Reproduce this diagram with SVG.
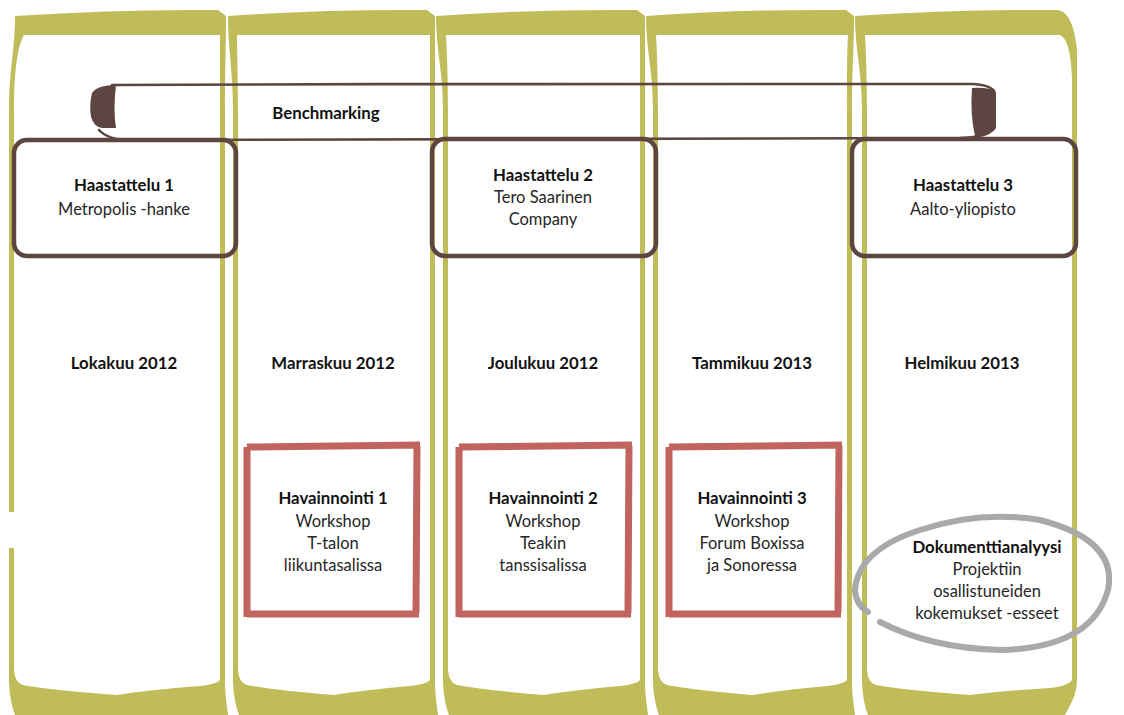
<svg xmlns="http://www.w3.org/2000/svg" width="1124" height="715" viewBox="0 0 1124 715">
<style>
.col{fill:#c0bc59;fill-rule:evenodd}
.gap{fill:#ffffff}
.bm{fill:none;stroke:#5d4641;stroke-width:2.6;stroke-linecap:round}
.bmf{fill:#5d4641}
.hb{fill:none;stroke:#5d4641;stroke-width:4.5;stroke-linejoin:round}
.hv{fill:none;stroke:#c1635f;stroke-width:7;stroke-linejoin:miter}
.dk{fill:none;stroke:#a9a9a9;stroke-width:6;stroke-linecap:round}
text{font-family:Lato,"Noto Sans","Liberation Sans",sans-serif;font-size:16.5px;fill:#262626;text-anchor:middle}
.b{font-weight:bold;font-size:16.8px;fill:#111111}
</style>
<rect width="1124" height="715" fill="#ffffff"/>
<g id="columns">
<path id="col1" class="col" d="M15,16 Q120,9 218,10 L226,16 C226,50 225,70 225,110 L225,680 C225,695 227,705 228,715 L15,715 C11,705 9,690 9,680 L9,110 C9,70 15,50 15,16 Z M24,35 L220,35 C220,50 220,80 220,110 L220,680 Q217,684 200,686 Q147,690 117,695 Q49,690 23,685 Q15,683 14,670 L14,110 C14,70 18,45 24,35 Z"/>
<path id="col2" class="col" d="M228,16 Q330,9 427,10 L435,16 C435,50 435,70 435,110 L435,680 C435,695 437,705 438,715 L239,715 C235,705 233,690 233,680 L233,110 C233,70 228,50 228,16 Z M237,35 L430,35 C430,50 430,80 430,110 L430,680 Q427,684 410,686 Q364,690 334,695 Q273,690 247,685 Q239,683 238,670 L238,110 C238,80 237,50 237,35 Z"/>
<path id="col3" class="col" d="M436,16 Q540,9 637,10 L645,16 C645,50 645,70 645,110 L645,680 C645,695 647,705 648,715 L449,715 C445,705 443,690 443,680 L443,110 C443,70 436,50 436,16 Z M446,35 L640,35 C640,50 640,80 640,110 L640,680 Q637,684 620,686 Q574,690 544,695 Q483,690 457,685 Q449,683 448,670 L448,110 C448,80 447,50 446,35 Z"/>
<path id="col4" class="col" d="M646,16 Q750,9 846,10 L854,16 C854,50 852,70 852,110 L852,680 C852,695 854,705 855,715 L659,715 C655,705 653,690 653,680 L653,110 C653,70 646,50 646,16 Z M656,35 L848,35 C847,50 847,80 847,110 L847,680 Q844,684 827,686 Q782,690 752,695 Q693,690 667,685 Q659,683 658,670 L658,110 C658,80 657,50 656,35 Z"/>
<path id="col5" class="col" d="M855,16 Q960,9 1058,10 Q1073,12 1077,50 L1077,680 C1077,695 1070,705 1065,715 L868,715 C864,705 862,690 862,680 L862,110 C862,70 855,50 855,16 Z M865,35 L1060,35 Q1071,40 1072,80 L1072,680 Q1068,686 1050,688 Q1000,691 970,695 Q903,690 876,685 Q868,683 867,670 L867,110 C867,80 866,50 865,35 Z"/>
<rect class="gap" x="3" y="512" width="16" height="36"/>
</g>
<g id="connectors"></g>
<g id="benchmarking">
<path class="bm" d="M112,85 C400,84 700,83 972,84 Q990,85 994,91"/>
<path class="bm" d="M99,130 Q108,140 130,140 L960,138 Q984,137 990,132"/>
<path class="bmf" d="M116,85 Q97,85 92,93 Q89,105 91,117 Q94,127 102,128 L116,128 Q113,110 116,85 Z"/>
<path class="bmf" d="M972,88 Q990,87 996,92 L996,128 Q992,135 975,136 Q970,115 972,88 Z"/>
<text class="b" x="326" y="119">Benchmarking</text>
</g>
<g id="haastattelu1">
<rect class="hb" x="14" y="140" width="222" height="116" rx="13"/>
<text class="b" x="124" y="191">Haastattelu 1</text>
<text x="124" y="215">Metropolis -hanke</text>
</g>
<g id="haastattelu2">
<rect class="hb" x="432" y="139" width="224" height="117" rx="13"/>
<text class="b" x="543" y="181">Haastattelu 2</text>
<text x="543" y="203">Tero Saarinen</text>
<text x="543" y="225">Company</text>
</g>
<g id="haastattelu3">
<rect class="hb" x="852" y="139" width="224" height="117" rx="13"/>
<text class="b" x="963" y="191">Haastattelu 3</text>
<text x="963" y="215">Aalto-yliopisto</text>
</g>
<g id="months">
<text class="b" x="124" y="369">Lokakuu 2012</text>
<text class="b" x="333" y="369">Marraskuu 2012</text>
<text class="b" x="543" y="369">Joulukuu 2012</text>
<text class="b" x="752" y="369">Tammikuu 2013</text>
<text class="b" x="962" y="369">Helmikuu 2013</text>
</g>
<g id="havainnointi1">
<path class="hv" d="M247,447 L420,445 M417,446 L416,613 M419,614 L247,614 M247,617 L247,447"/>
<text class="b" x="333" y="504">Havainnointi 1</text>
<text x="333" y="527">Workshop</text>
<text x="333" y="549">T-talon</text>
<text x="333" y="571">liikuntasalissa</text>
</g>
<g id="havainnointi2">
<path class="hv" d="M459,447 L632,445 M629,446 L628,613 M631,614 L459,614 M459,617 L459,447"/>
<text class="b" x="543" y="504">Havainnointi 2</text>
<text x="543" y="527">Workshop</text>
<text x="543" y="549">Teakin</text>
<text x="543" y="571">tanssisalissa</text>
</g>
<g id="havainnointi3">
<path class="hv" d="M669,447 L842,445 M839,446 L838,613 M841,614 L669,614 M669,617 L669,447"/>
<text class="b" x="752" y="504">Havainnointi 3</text>
<text x="752" y="527">Workshop</text>
<text x="752" y="549">Forum Boxissa</text>
<text x="752" y="571">ja Sonoressa</text>
</g>
<g id="dokumenttianalyysi">
<path class="dk" d="M880,622 Q930,648 1000,650 Q1092,648 1108,590 Q1118,540 1040,520 Q980,510 920,530 Q858,550 855,590 Q856,605 868,612"/>
<text class="b" x="987" y="553">Dokumenttianalyysi</text>
<text x="987" y="575">Projektiin</text>
<text x="987" y="597">osallistuneiden</text>
<text x="987" y="619">kokemukset -esseet</text>
</g>
</svg>
